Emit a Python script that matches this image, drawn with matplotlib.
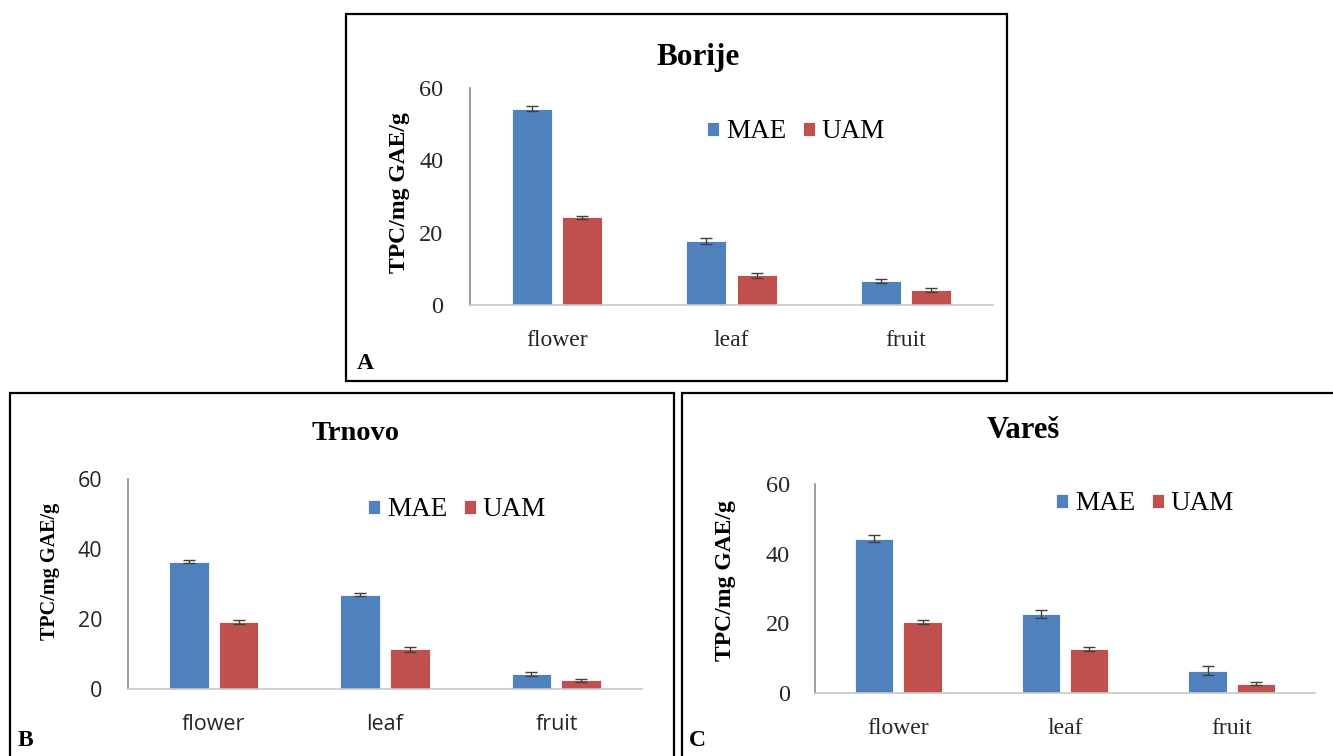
import matplotlib
matplotlib.use("Agg")
import matplotlib.pyplot as plt
from matplotlib.patches import Rectangle
import numpy as np

# TPC of three sites, two extraction methods
categories = ["flower", "leaf", "fruit"]
series_names = ["MAE", "UAM"]

borije_mae = [54.3, 17.6, 6.7]
borije_uam = [24.2, 8.2, 4.2]
borije_mae_err = [0.6, 0.8, 0.6]
borije_uam_err = [0.5, 0.6, 0.5]

trnovo_mae = [36.4, 27.0, 4.4]
trnovo_uam = [19.2, 11.3, 2.5]
trnovo_mae_err = [0.5, 0.5, 0.6]
trnovo_uam_err = [0.6, 0.6, 0.5]

vares_mae = [44.3, 22.6, 6.4]
vares_uam = [20.4, 12.6, 2.7]
vares_mae_err = [1.0, 1.2, 1.3]
vares_uam_err = [0.5, 0.5, 0.5]

y_ticks = [0, 20, 40, 60]

W, H = 1333, 756
BLUE = "#4F81BD"
RED = "#C0504D"
SERIF = "Liberation Serif"
SANS = "Open Sans"

fig = plt.figure(figsize=(W / 100, H / 100), dpi=100)


def fx(px):
    return px / W


def fy(py):
    return 1 - py / H


def draw_panel(box, axbox, title, title_size, title_xy, ylab_xy, ylab_size,
               legend_xy, letter_xy, mae, uam, mae_err, uam_err,
               tick_font, tick_size, cat_size, ypad):
    x0, y0, x1, y1 = box
    fig.patches.append(Rectangle((fx(x0), fy(y1)), fx(x1 - x0), (y1 - y0) / H,
                                 transform=fig.transFigure, fill=False,
                                 edgecolor="black", linewidth=1.6))
    ax_l, ax_t, ax_r, ax_b = axbox
    ax = fig.add_axes([fx(ax_l), fy(ax_b), fx(ax_r - ax_l), (ax_b - ax_t) / H])
    x = np.arange(len(categories))
    w, off = 0.23, 0.145
    b1 = ax.bar(x - off, mae, w, color=BLUE, edgecolor="white", linewidth=0.6,
                label=series_names[0])
    b2 = ax.bar(x + off, uam, w, color=RED, edgecolor="white", linewidth=0.6,
                label=series_names[1])
    ax.errorbar(x - off, mae, yerr=mae_err, fmt="none", ecolor="#404040",
                elinewidth=1.0, capsize=4, capthick=1.0)
    ax.errorbar(x + off, uam, yerr=uam_err, fmt="none", ecolor="#404040",
                elinewidth=1.0, capsize=4, capthick=1.0)
    ax.set_xlim(-0.5, 2.5)
    ax.set_ylim(0, 60)
    ax.set_yticks(y_ticks)
    ax.set_xticks(x)
    ax.set_xticklabels(categories, fontfamily=tick_font, fontsize=cat_size)
    ax.set_yticklabels([str(t) for t in y_ticks], fontfamily=tick_font,
                       fontsize=tick_size)
    ax.tick_params(axis="both", length=0, colors="#262626")
    ax.tick_params(axis="y", pad=ypad)
    ax.tick_params(axis="x", pad=18)
    for s in ["top", "right"]:
        ax.spines[s].set_visible(False)
    ax.spines["left"].set_color("#8C8C8C")
    ax.spines["bottom"].set_color("#C8C8C8")
    ax.spines["left"].set_linewidth(1.2)
    ax.spines["bottom"].set_linewidth(1.2)

    fig.text(fx(title_xy[0]), fy(title_xy[1]), title, ha="center", va="center",
             fontfamily=SERIF, fontweight="bold", fontsize=title_size)
    fig.text(fx(ylab_xy[0]), fy(ylab_xy[1]), "TPC/mg GAE/g", ha="center",
             va="center", rotation=90, fontfamily=SERIF, fontweight="bold",
             fontsize=ylab_size)
    fig.legend(handles=[b1, b2], loc="center",
               bbox_to_anchor=(fx(legend_xy[0]), fy(legend_xy[1])),
               ncol=2, frameon=False, handlelength=0.45, handleheight=0.45,
               handletextpad=0.25, columnspacing=0.6,
               prop={"family": SERIF, "size": 19.5})
    fig.text(fx(letter_xy[0]), fy(letter_xy[1]), letter_xy[2], ha="left",
             va="center", fontfamily=SERIF, fontweight="bold", fontsize=17)
    return ax


draw_panel((346, 14, 1007, 381), (470, 88, 993, 305), "Borije", 22.5, (698, 57),
           (400, 193), 17, (796, 132), (357, 364, "A"),
           borije_mae, borije_uam, borije_mae_err, borije_uam_err,
           SERIF, 17.5, 17, 19)

draw_panel((10, 393, 674, 758), (128, 479, 642, 689), "Trnovo", 20.5, (356, 433),
           (50, 571), 14.5, (457, 510), (18, 741, "B"),
           trnovo_mae, trnovo_uam, trnovo_mae_err, trnovo_uam_err,
           SANS, 15.5, 15.5, 18.5)

draw_panel((682, 393, 1335, 758), (815, 484, 1315, 693), "Vareš", 22, (1023, 431),
           (725, 581), 17, (1145, 504), (689, 741, "C"),
           vares_mae, vares_uam, vares_mae_err, vares_uam_err,
           SERIF, 17.5, 17, 18)

fig.savefig("out.png", dpi=100, facecolor="white")
